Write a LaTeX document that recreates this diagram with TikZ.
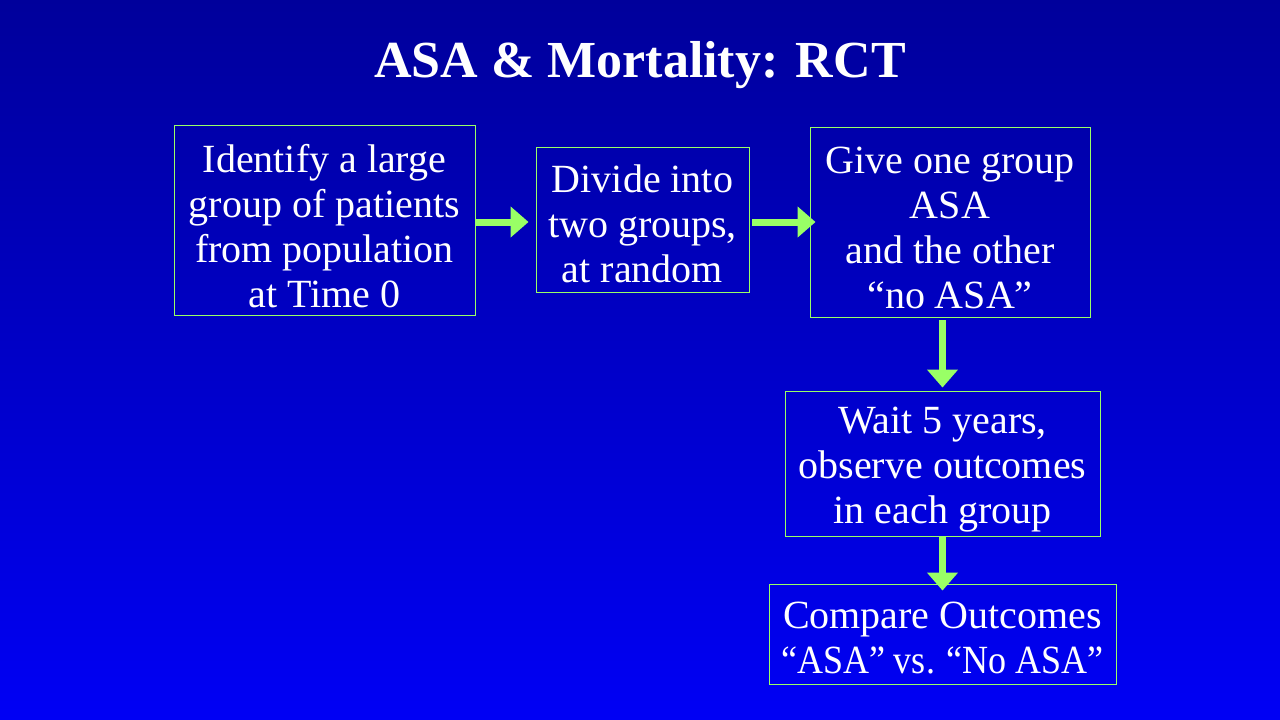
\documentclass[tikz,border=0pt]{standalone}
\usepackage{fontspec}
\setmainfont{Liberation Serif}
\usetikzlibrary{arrows.meta}
\definecolor{bgtop}{RGB}{0,0,155}
\definecolor{bgbottom}{RGB}{0,0,245}
\definecolor{limegreen}{RGB}{153,255,102}
\tikzset{
  stepbox/.style={draw=limegreen, line width=0.9pt, inner sep=0pt},
  steptext/.style={inner sep=0pt, align=center, text=white,
    font=\fontsize{40}{45}\selectfont},
  flow/.style={draw=limegreen, line width=7pt,
    -{Triangle[length=18pt,width=30pt]}},
}
\begin{document}
\begin{tikzpicture}[x=1pt,y=-1pt]
  % slide background
  \shade[top color=bgtop, bottom color=bgbottom] (0,0) rectangle (1280,720);
  \useasboundingbox (0,0) rectangle (1280,720);

  % title
  \node[text=white, font=\fontsize{52}{60}\selectfont\bfseries] (title) at (640,65) {ASA \& Mortality: RCT};

  % frames of the trial steps
  \node[stepbox, minimum width=301pt, minimum height=190pt] (b1) at (324.5,220) {};
  \node[stepbox, minimum width=213pt, minimum height=145pt] (b2) at (642.5,219.5) {};
  \node[stepbox, minimum width=280pt, minimum height=190pt] (b3) at (950,222) {};
  \node[stepbox, minimum width=315pt, minimum height=145pt] (b4) at (942.5,463.5) {};
  \node[stepbox, minimum width=347pt, minimum height=100pt] (b5) at (942.5,634) {};

  % texts of the trial steps
  \node[steptext] (t1) at ([yshift=-6pt]b1.center)
    {Identify a large\\group of patients\\from population\\at Time 0};
  \node[steptext] (t2) at ([yshift=-4pt]b2.center)
    {Divide into\\two groups,\\at random};
  \node[steptext] (t3) at ([yshift=-6pt]b3.center)
    {Give one group\\ASA\\and the other\\``no ASA''};
  \node[steptext] (t4) at ([yshift=-6pt]b4.center)
    {Wait 5 years,\\observe outcomes\\in each group};
  \node[steptext] (t5) at ([yshift=-4pt]b5.center)
    {Compare Outcomes\\\scalebox{0.9}[1]{``ASA'' vs. ``No ASA''}};

  % arrows between steps
  \draw[flow, shorten >=7pt] ([yshift=-2pt]b1.east) -- ([yshift=-2pt]b1.east -| b2.west);
  \draw[flow, shorten <=3pt, shorten >=-6pt] ([yshift=-2.5pt]b2.east) -- ([yshift=-2.5pt]b2.east -| b3.west);
  \draw[flow, shorten <=3pt, shorten >=3pt] (b4.north |- b3.south) -- (b4.north);
  \draw[flow, shorten >=-7pt] (b4.south) -- (b5.north);
\end{tikzpicture}
\end{document}
